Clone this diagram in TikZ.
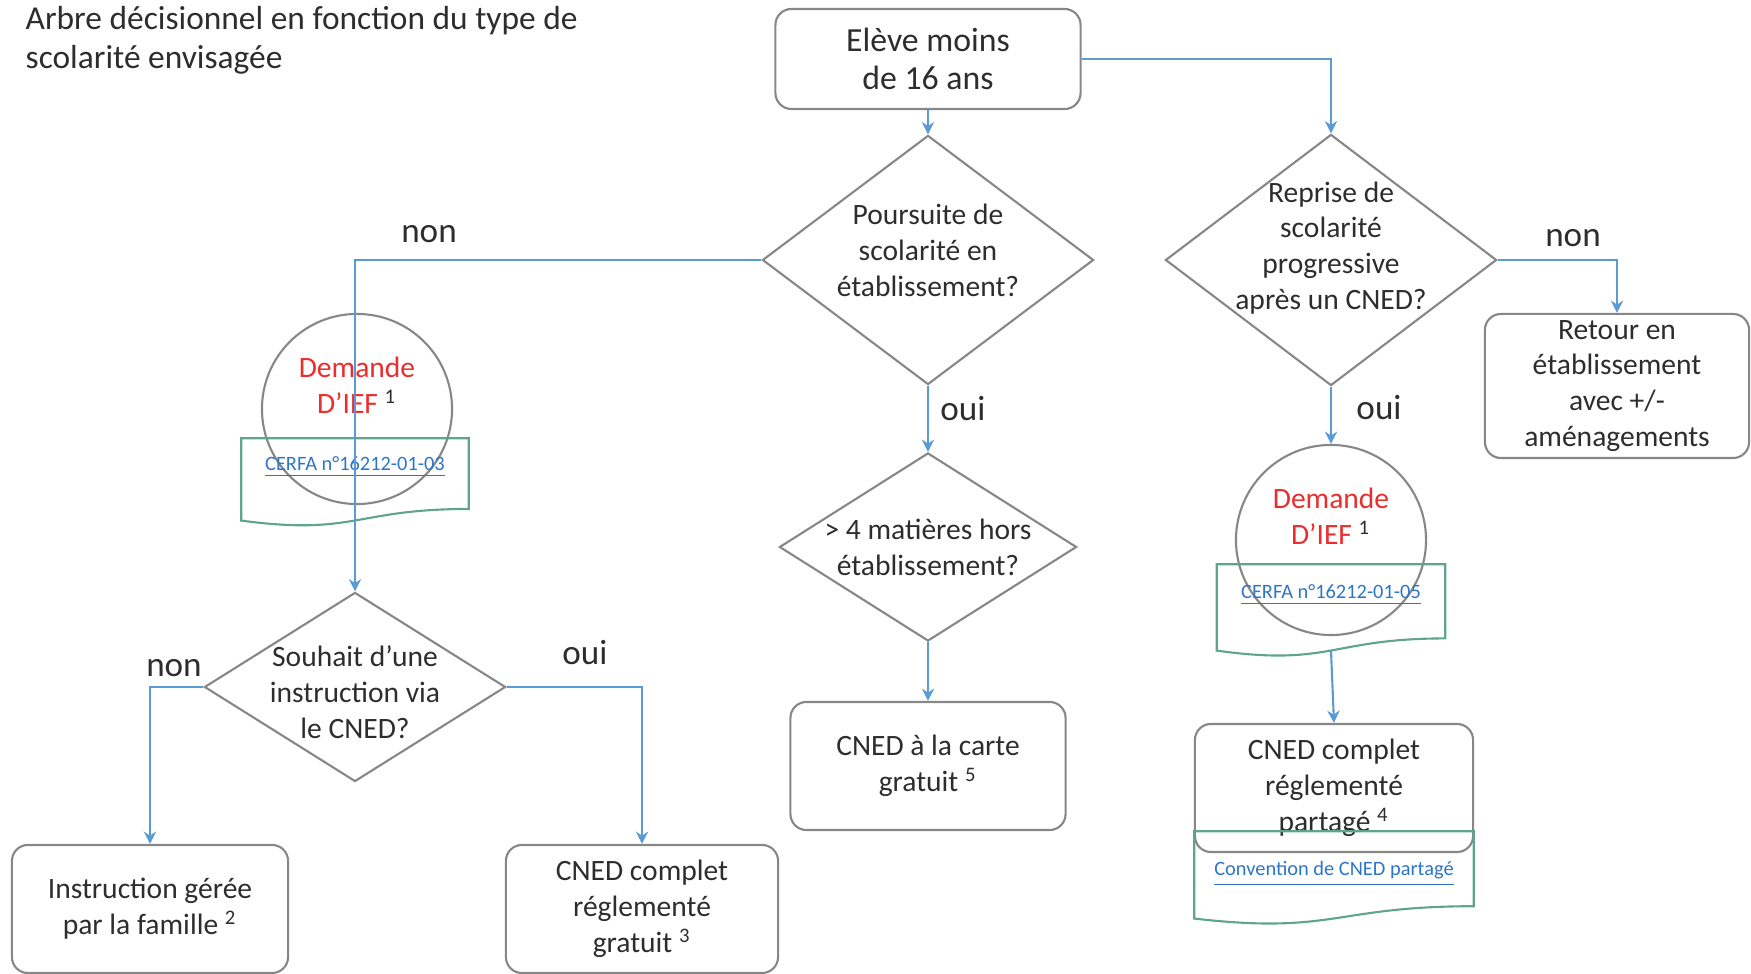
\documentclass[tikz,border=0pt]{standalone}
\usepackage{fontspec}
\setmainfont{Carlito}
\usetikzlibrary{shapes.geometric,arrows.meta,calc}
\definecolor{txt}{RGB}{45,45,45}
\definecolor{boxgray}{RGB}{135,135,135}
\definecolor{conn}{RGB}{91,155,213}
\definecolor{docgreen}{RGB}{95,165,140}
\definecolor{linkblue}{RGB}{46,117,200}
\definecolor{iefred}{RGB}{235,45,45}
\newcommand\docoutline[1]{%
  \draw[docline] (#1.north west) -- (#1.north east)
    -- ($(#1.north east)!0.802!(#1.south east)$)
    .. controls ($(#1.north)!0.802!(#1.south)$) and ($(#1.north)!1.107!(#1.south)$)
    .. ($(#1.north west)!0.934!(#1.south west)$) -- cycle;}
\begin{document}
\begin{tikzpicture}[x=0.01cm,y=-0.01cm,
  box/.style={draw=boxgray, line width=0.6pt, rounded corners=0.16cm, align=center,
    font=\fontsize{8.4}{10.2}\selectfont, text=txt, inner sep=0pt},
  dia/.style={draw=boxgray, line width=0.6pt, diamond, inner sep=0pt},
  lbl/.style={align=center, text=txt, font=\fontsize{8.4}{10.2}\selectfont, inner sep=0pt},
  circ/.style={draw=boxgray, circle, minimum size=1.9cm, inner sep=0pt, line width=0.6pt},
  doc/.style={rectangle, inner sep=0pt},
  docline/.style={draw=docgreen, line width=0.6pt},
  link/.style={text=linkblue, font=\fontsize{5.8}{7}\selectfont, inner sep=0pt},
  arr/.style={draw=conn, line width=0.6pt, -{Stealth[length=3.5pt,width=3.5pt]}},
  yn/.style={text=txt, font=\fontsize{10}{12}\selectfont, inner sep=0pt},
  red/.style={align=center, text=iefred, font=\fontsize{8.4}{10.2}\selectfont, inner sep=0pt}
]
\useasboundingbox (0,0) rectangle (1751,974);

% title
\node[anchor=north west, align=left, text=txt, font=\fontsize{9.5}{11}\selectfont, inner sep=0pt]
  (title) at (25,6) {Arbre décisionnel en fonction du type de\\scolarité envisagée};

% top
\node[box, minimum width=3.05cm, minimum height=1.0cm, font=\fontsize{9.6}{11}\selectfont] (eleve) at (928,59) {Elève moins\\de 16 ans};

% diamonds
\node[dia, minimum width=3.31cm, minimum height=2.49cm] (d1) at (928,260) {};
\node[lbl] (d1t) at (928,250) {Poursuite de\\scolarité en\\établissement?};

\node[dia, minimum width=3.31cm, minimum height=2.51cm] (d2) at (1331,260) {};
\node[lbl] (d2t) at (1331,248) {Reprise de\\scolarité\\progressive\\après un CNED?};

\node[box, minimum width=2.64cm, minimum height=1.44cm] (retour) at (1617,386) {Retour en\\établissement\\avec +/-\\aménagements};

% left branch
\node[circ] (c1) at (357,409) {};
\node[red] (c1t) at (357,385) {Demande\\D’IEF \textsuperscript{\color{txt}1}};
\node[doc, minimum width=2.26cm, minimum height=0.867cm] (f1) at (355,482.35) {};
\docoutline{f1}
\node[link] (f1t) at (355,467) {\underline{CERFA n°16212-01-03}};

\node[dia, minimum width=3.01cm, minimum height=1.89cm] (d3) at (355,687) {};
\node[lbl] (d3t) at (355,692) {Souhait d’une\\instruction via\\le CNED?};

\node[box, minimum width=2.76cm, minimum height=1.28cm] (b1) at (150,909) {Instruction gérée\\par la famille \textsuperscript{2}};
\node[box, minimum width=2.72cm, minimum height=1.28cm] (b2) at (642,909) {CNED complet\\réglementé\\gratuit \textsuperscript{3}};

% middle branch
\node[dia, minimum width=2.97cm, minimum height=1.88cm] (d4) at (928,547) {};
\node[lbl] (d4t) at (928,547) {> 4 matières hors\\établissement?};
\node[box, minimum width=2.75cm, minimum height=1.28cm] (b3) at (928,766) {CNED à la carte\\gratuit \textsuperscript{5}};

% right branch
\node[circ] (c2) at (1331,540) {};
\node[red] (c2t) at (1331,516) {Demande\\D’IEF \textsuperscript{\color{txt}1}};
\node[doc, minimum width=2.27cm, minimum height=0.91cm] (f2) at (1331,610.5) {};
\docoutline{f2}
\node[link] (f2t) at (1331,595) {\underline{CERFA n°16212-01-05}};
\coordinate (f2b) at ($(f2.north)!0.933!(f2.south)$);

\node[box, minimum width=2.78cm, minimum height=1.28cm] (b4) at (1334,788) {CNED complet\\réglementé\\partagé \textsuperscript{4}};
\node[doc, minimum width=2.78cm, minimum height=0.92cm] (f3) at (1334,878) {};
\docoutline{f3}
\node[link] (f3t) at (1334,874) {\underline{Convention de CNED partagé}};

% connectors
\draw[arr] (eleve.south) -- (d1.north);
\draw[arr] (eleve.east) -| (d2.north);
\draw[arr] (d1.west) -| (d3.north);
\draw[arr] (d1.south) -- (d4.north);
\draw[arr] (d4.south) -- (b3.north);
\draw[arr] (d2.east) -| (retour.north);
\draw[arr] (d2.south) -- (c2.north);
\draw[arr] (f2b) -- (b4.north);
\draw[arr] (d3.west) -| (b1.north);
\draw[arr] (d3.east) -| (b2.north);

% labels
\node[yn] (l1) at (429,234) {non};
\node[yn] (l2) at (963,409) {oui};
\node[yn] (l3) at (1573,238) {non};
\node[yn] (l4) at (1379,408) {oui};
\node[yn] (l5) at (174,668) {non};
\node[yn] (l6) at (585,653) {oui};
\end{tikzpicture}
\end{document}
